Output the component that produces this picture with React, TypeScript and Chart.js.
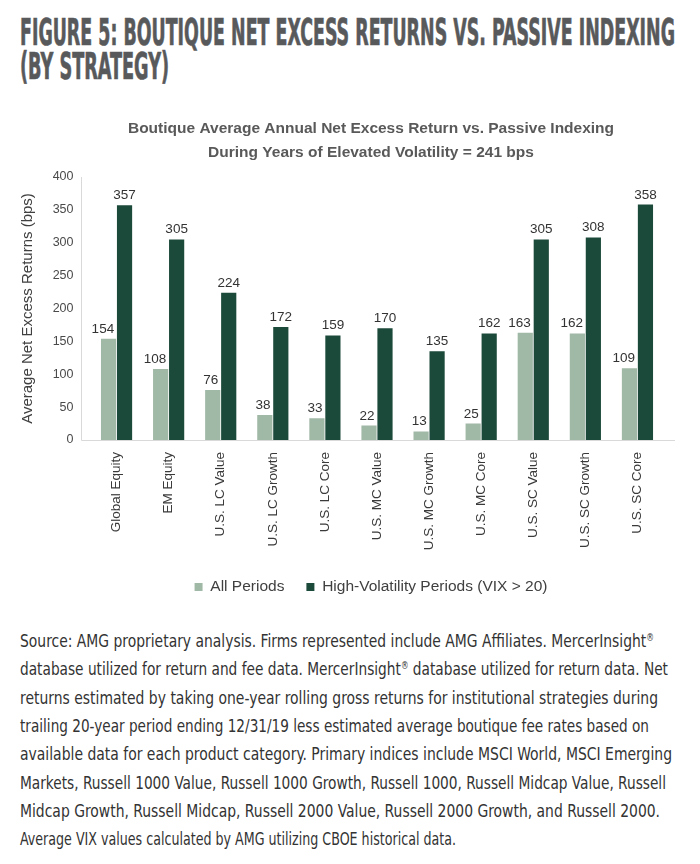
import React, { useEffect, useRef } from "react";
import { Chart, registerables } from "chart.js";

Chart.register(...registerables);

// ---------- data ----------
const categories = [
  "Global Equity",
  "EM Equity",
  "U.S. LC Value",
  "U.S. LC Growth",
  "U.S. LC Core",
  "U.S. MC Value",
  "U.S. MC Growth",
  "U.S. MC Core",
  "U.S. SC Value",
  "U.S. SC Growth",
  "U.S. SC Core",
];
const allPeriods = [154, 108, 76, 38, 33, 22, 13, 25, 163, 162, 109];
const highVolatility = [357, 305, 224, 172, 159, 170, 135, 162, 305, 308, 358];
const seriesNames = ["All Periods", "High-Volatility Periods (VIX > 20)"];
const yMin = 0;
const yMax = 400;
const yStep = 50;

const figureTitle = [
  "FIGURE 5: BOUTIQUE NET EXCESS RETURNS VS. PASSIVE INDEXING",
  "(BY STRATEGY)",
];
const chartTitle = [
  "Boutique Average Annual Net Excess Return vs. Passive Indexing",
  "During Years of Elevated Volatility = 241 bps",
];
const yAxisTitle = "Average Net Excess Returns (bps)";
const sourceLines = [
  "Source: AMG proprietary analysis. Firms represented include AMG Affiliates. MercerInsight\u00AE",
  "database utilized for return and fee data. MercerInsight\u00AE database utilized for return data. Net",
  "returns estimated by taking one-year rolling gross returns for institutional strategies during",
  "trailing 20-year period ending 12/31/19 less estimated average boutique fee rates based on",
  "available data for each product category. Primary indices include MSCI World, MSCI Emerging",
  "Markets, Russell 1000 Value, Russell 1000 Growth, Russell 1000, Russell Midcap Value, Russell",
  "Midcap Growth, Russell Midcap, Russell 2000 Value, Russell 2000 Growth, and Russell 2000.",
  "Average VIX values calculated by AMG utilizing CBOE historical data.",
];

// ---------- layout / style ----------
const titleLineWidths = [655, 149];
const sourceLineWidths = [634, 648, 638, 629, 652, 646, 640, 436];
const lightGreen = "#a0b8a6";
const darkGreen = "#1c4a3a";
const FONT = "'Liberation Sans', Arial, Helvetica, sans-serif";
const NARROW = "'Liberation Sans Narrow', 'DejaVu Sans Condensed', 'Liberation Sans', sans-serif";

const axisLinesPlugin = {
  id: "axisLines",
  beforeDatasetsDraw(chart: any) {
    const { ctx, chartArea, scales } = chart;
    const y0 = Math.round(scales.y.getPixelForValue(0)) + 0.5;
    const xl = Math.round(chartArea.left - 9.5) + 0.5;
    const xr = chartArea.right + 11.5;
    ctx.save();
    ctx.strokeStyle = "#d9d9d9";
    ctx.lineWidth = 1;
    ctx.beginPath();
    ctx.moveTo(xl, y0);
    ctx.lineTo(xr, y0);
    ctx.moveTo(xl, Math.round(chartArea.top));
    ctx.lineTo(xl, y0);
    ctx.stroke();
    ctx.restore();
  },
};

const valueLabelsPlugin = {
  id: "valueLabels",
  afterDatasetsDraw(chart: any) {
    const ctx = chart.ctx;
    ctx.save();
    ctx.font = `13.5px ${FONT}`;
    ctx.fillStyle = "#333333";
    ctx.textBaseline = "alphabetic";
    chart.data.datasets.forEach((ds: any, di: number) => {
      const meta = chart.getDatasetMeta(di);
      meta.data.forEach((bar: any, i: number) => {
        const v = ds.data[i];
        const { x, y, width } = bar.getProps(["x", "y", "width"], true);
        if (di === 0) {
          ctx.textAlign = "right";
          ctx.fillText(String(v), x + width / 2 - 2, y - 6);
        } else {
          ctx.textAlign = "center";
          ctx.fillText(String(v), x, y - 6);
        }
      });
    });
    ctx.restore();
  },
};

function BarChart() {
  const ref = useRef<HTMLCanvasElement | null>(null);
  useEffect(() => {
    if (!ref.current) return;
    const chart = new Chart(ref.current, {
      type: "bar",
      data: {
        labels: categories,
        datasets: [
          {
            label: seriesNames[0],
            data: allPeriods,
            backgroundColor: lightGreen,
            borderWidth: 0,
            categoryPercentage: 0.614,
            barPercentage: 0.95,
          },
          {
            label: seriesNames[1],
            data: highVolatility,
            backgroundColor: darkGreen,
            borderWidth: 0,
            categoryPercentage: 0.614,
            barPercentage: 0.95,
          },
        ],
      },
      options: {
        responsive: false,
        animation: false,
        devicePixelRatio: 1,
        layout: { padding: { left: 42, right: 0, top: 0, bottom: 5.25 } },
        plugins: {
          tooltip: { enabled: false },
          title: {
            display: true,
            text: chartTitle,
            color: "#595959",
            font: { size: 15.5, weight: "bold", family: FONT, lineHeight: 24 / 15.5 },
            padding: { top: 16.5, bottom: 12.5 },
          },
          legend: {
            position: "bottom",
            labels: {
              boxWidth: 8,
              boxHeight: 8,
              padding: 22,
              color: "#404040",
              font: { size: 15.5, family: FONT },
            },
          },
        },
        scales: {
          x: {
            offset: true,
            grid: { display: false, drawTicks: false },
            border: { display: false },
            ticks: {
              autoSkip: false,
              maxRotation: 90,
              minRotation: 90,
              padding: 12,
              color: "#3a3a3a",
              font: { size: 13.5, family: FONT },
            },
            afterFit(scale: any) {
              scale.height = 117.25;
            },
          },
          y: {
            position: "left",
            min: yMin,
            max: yMax,
            grid: { display: false, drawTicks: false },
            border: { display: false },
            ticks: {
              stepSize: yStep,
              padding: 17,
              color: "#4a4a4a",
              font: { size: 12.5, family: FONT },
            },
            title: {
              display: true,
              text: yAxisTitle,
              color: "#404040",
              font: { size: 15, family: FONT },
              padding: { top: -23, bottom: 0 },
            },
            afterFit(scale: any) {
              scale.width = 48.5;
            },
          },
          yRight: {
            position: "right",
            display: true,
            grid: { display: false, drawTicks: false },
            border: { display: false },
            ticks: { display: false },
            afterFit(scale: any) {
              scale.width = 36.5;
            },
          },
        },
      },
      plugins: [axisLinesPlugin, valueLabelsPlugin],
    } as any);
    return () => chart.destroy();
  }, []);
  return (
    <canvas
      ref={ref}
      width={700}
      height={510}
      style={{ position: "absolute", left: 0, top: 100, width: 700, height: 510 }}
    />
  );
}

function SourceLine({ text, y, w }: { text: string; y: number; w: number }) {
  const parts = text.split("\u00AE");
  const children: any[] = [];
  parts.forEach((p, i) => {
    if (i > 0) {
      children.push(
        <tspan key={"r" + i} fontSize={10} dy={-6}>
          {"\u00AE"}
        </tspan>
      );
      children.push(
        <tspan key={"t" + i} dy={6}>
          {p}
        </tspan>
      );
    } else {
      children.push(<tspan key={"t" + i}>{p}</tspan>);
    }
  });
  return (
    <text x={20} y={y} textLength={w} lengthAdjust="spacingAndGlyphs">
      {children}
    </text>
  );
}

export default function App() {
  return (
    <div
      style={{
        position: "absolute",
        left: 0,
        top: 0,
        width: 700,
        height: 864,
        background: "#ffffff",
        overflow: "hidden",
      }}
    >
      <svg
        width={700}
        height={100}
        style={{ position: "absolute", left: 0, top: 0 }}
        fontFamily={NARROW}
        fontWeight="bold"
        fontSize={37}
        fill="#58595b"
        stroke="#58595b"
        strokeWidth={0.7}
      >
        {figureTitle.map((t, i) => (
          <text
            key={i}
            x={20}
            y={45 + i * 34}
            textLength={titleLineWidths[i]}
            lengthAdjust="spacingAndGlyphs"
          >
            {t}
          </text>
        ))}
      </svg>
      <BarChart />
      <svg
        width={700}
        height={254}
        style={{ position: "absolute", left: 0, top: 610 }}
        fontFamily={NARROW}
        fontSize={18}
        fill="#333333"
      >
        {sourceLines.map((t, i) => (
          <SourceLine key={i} text={t} y={37 + i * 28.3} w={sourceLineWidths[i]} />
        ))}
      </svg>
    </div>
  );
}
